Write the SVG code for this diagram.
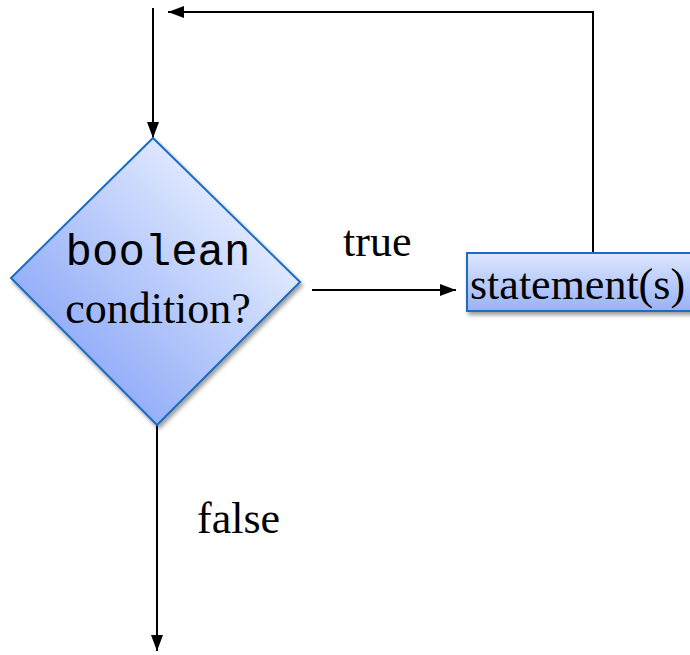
<svg xmlns="http://www.w3.org/2000/svg" width="690" height="655" viewBox="0 0 690 655">
<defs>
<linearGradient id="gd" x1="0" y1="1" x2="1" y2="0">
<stop offset="0.2" stop-color="#8eaaf8"/>
<stop offset="0.8" stop-color="#e4ecff"/>
</linearGradient>
<linearGradient id="gb" x1="0" y1="0" x2="0" y2="1">
<stop offset="0" stop-color="#dde7ff"/>
<stop offset="1" stop-color="#98b2f6"/>
</linearGradient>
<filter id="sh" x="-20%" y="-20%" width="140%" height="140%">
<feGaussianBlur in="SourceAlpha" stdDeviation="2"/>
<feOffset dx="2" dy="3"/>
<feComponentTransfer><feFuncA type="linear" slope="0.4"/></feComponentTransfer>
<feMerge><feMergeNode/><feMergeNode in="SourceGraphic"/></feMerge>
</filter>
<marker id="ah" markerWidth="16" markerHeight="12" refX="16" refY="6" orient="auto" markerUnits="userSpaceOnUse">
<path d="M0,0 L16,6 L0,12 Z" fill="#000"/>
</marker>
<style>
.ln{stroke:#000;stroke-width:2;fill:none}
.t{font-family:"Liberation Serif","Times New Roman",serif;font-size:44px;fill:#000}
.m{font-family:"Liberation Mono","Courier New",monospace;font-size:44px;fill:#000}
</style>
</defs>
<g id="connectors">
<line class="ln" x1="153" y1="8" x2="153" y2="138" marker-end="url(#ah)"/>
<polyline class="ln" points="593,252 593,12 168,12" marker-end="url(#ah)"/>
<line class="ln" x1="312" y1="290" x2="456" y2="290" marker-end="url(#ah)"/>
<line class="ln" x1="157" y1="425" x2="157" y2="651" marker-end="url(#ah)"/>
<text class="t" x="343" y="256">true</text>
<text class="t" x="197" y="533">false</text>
</g>
<g id="condition">
<polygon points="153,138 300,282 157,425 11,278" fill="url(#gd)" stroke="#1d6cc0" stroke-width="2" filter="url(#sh)"/>
<text class="m" x="158" y="265" text-anchor="middle">boolean</text>
<text class="t" x="158" y="323" text-anchor="middle">condition?</text>
</g>
<g id="statements">
<rect x="467" y="253" width="240" height="58" fill="url(#gb)" stroke="#1d6cc0" stroke-width="2" filter="url(#sh)"/>
<text class="t" x="470" y="299">statement(s)</text>
</g>
</svg>
